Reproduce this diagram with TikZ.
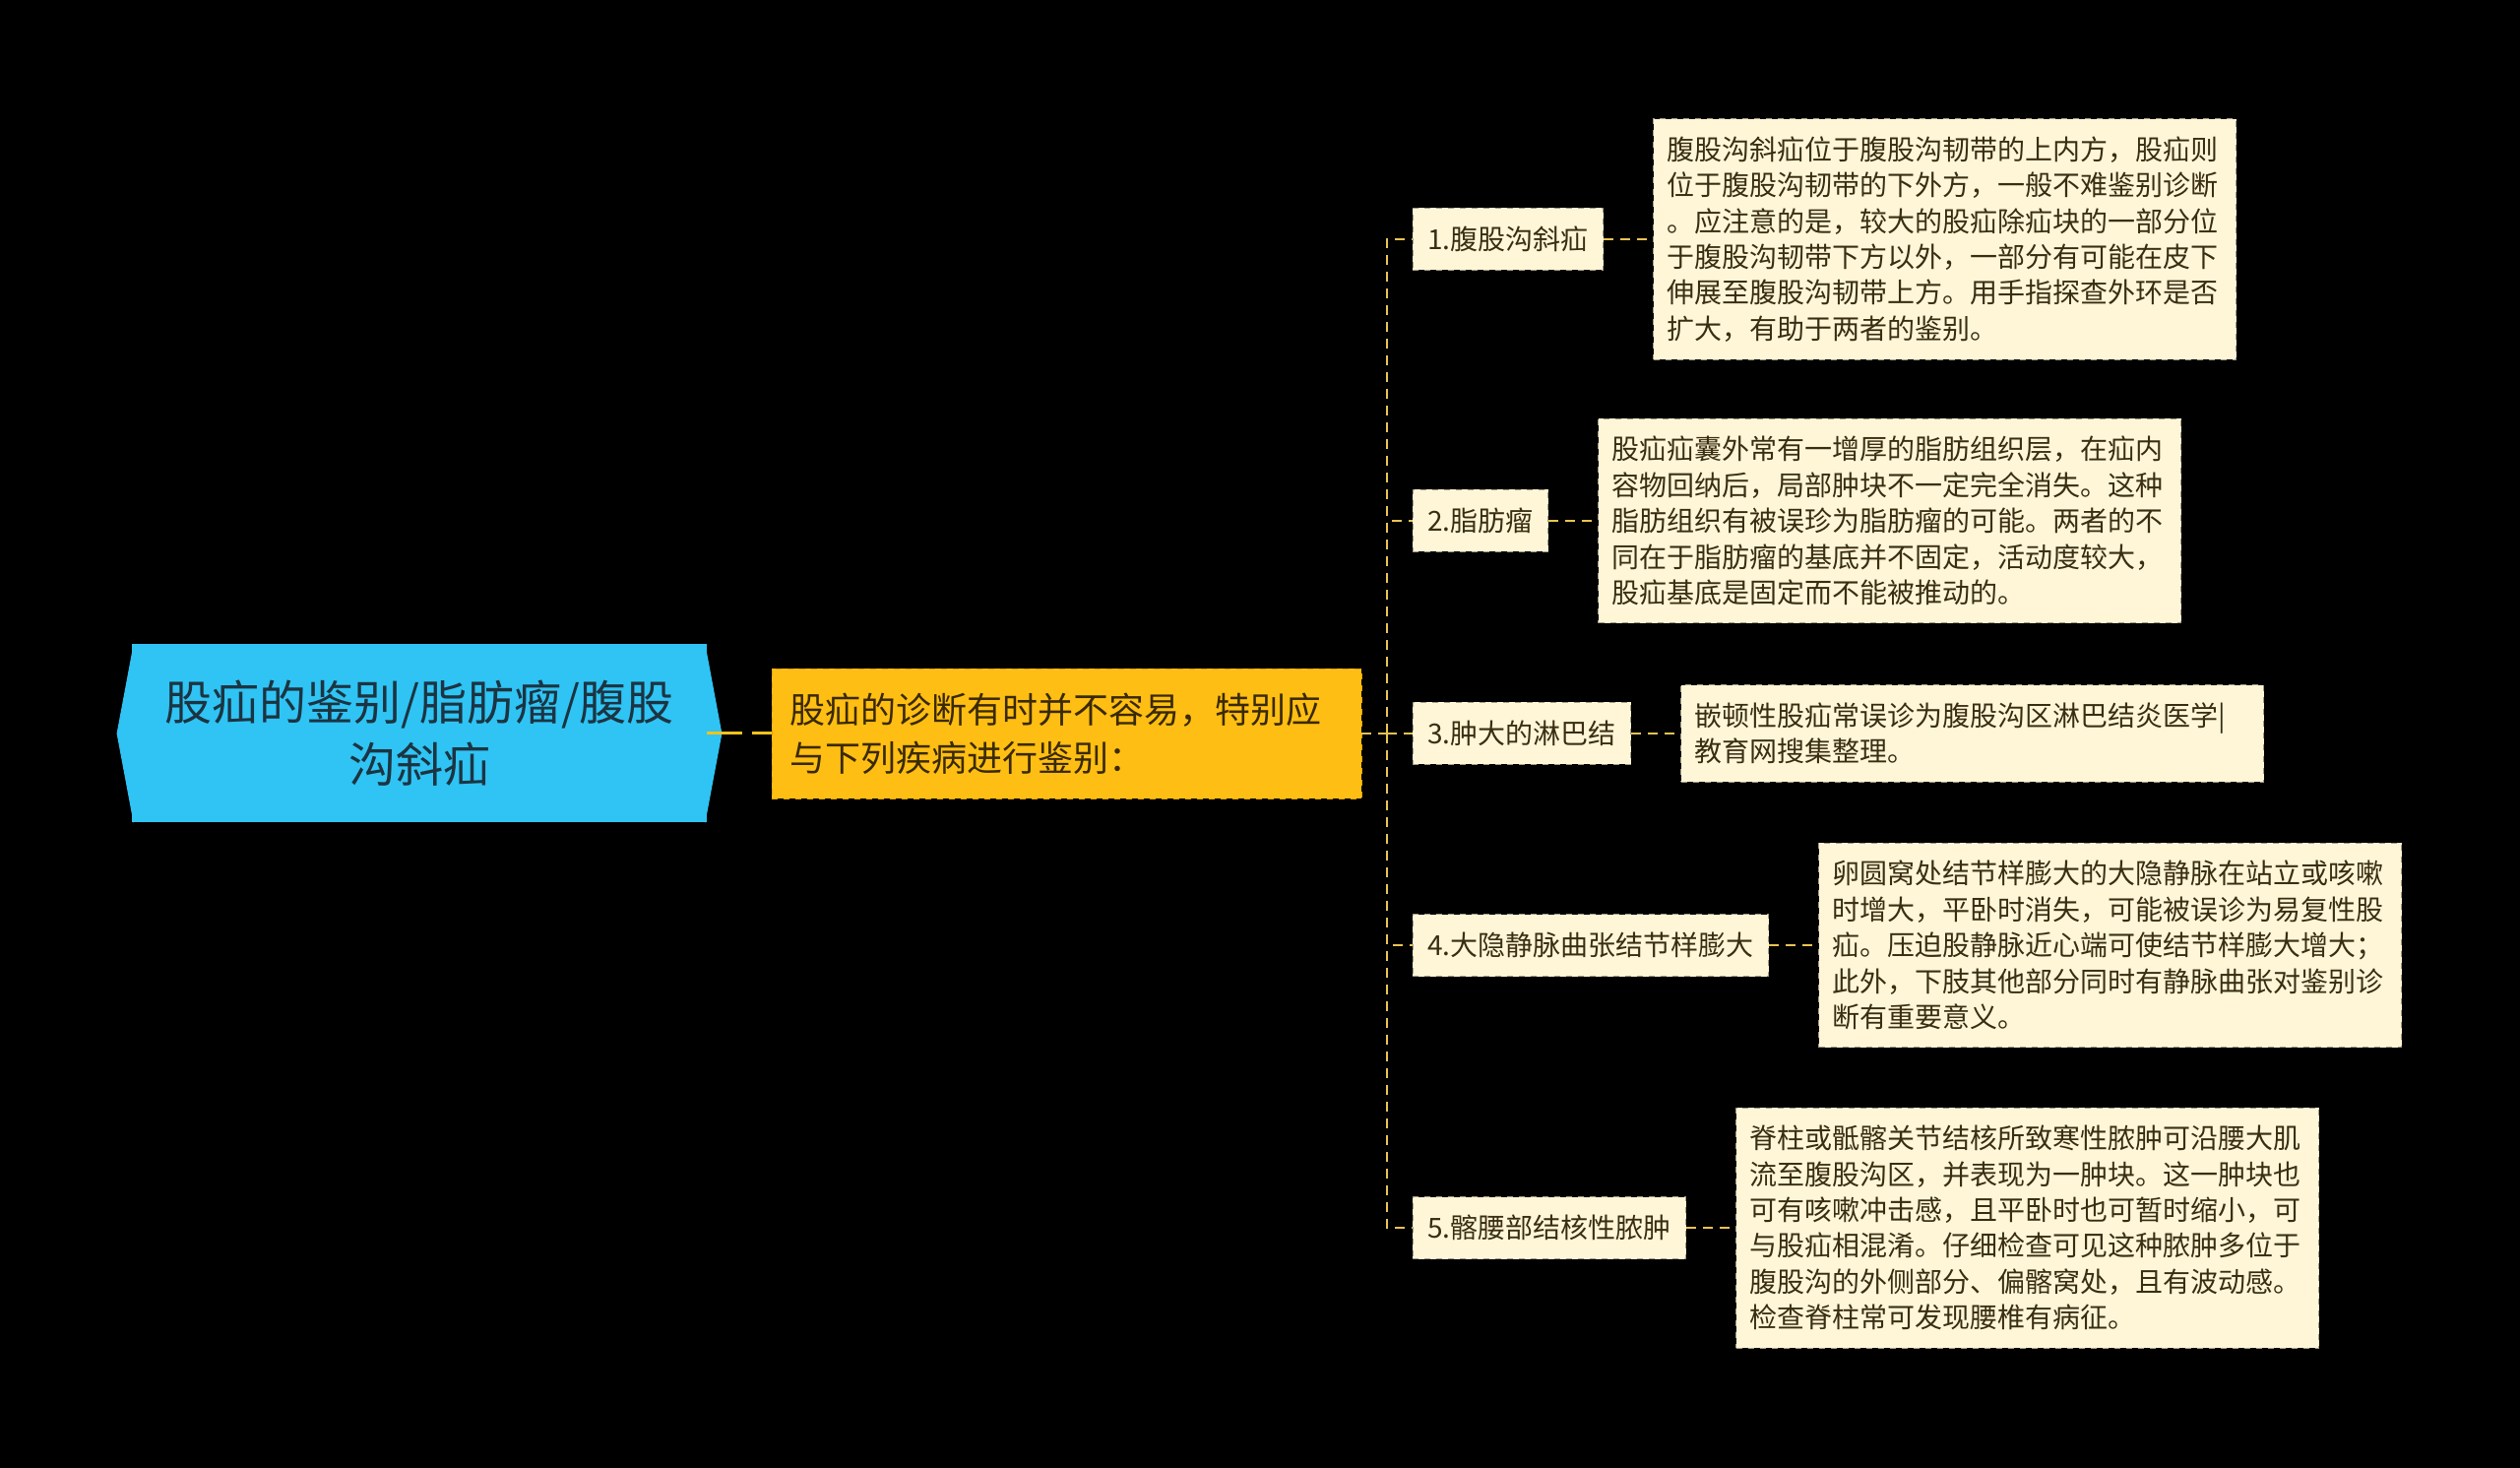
\documentclass[tikz,border=0pt]{standalone}
\usepackage[]{fontspec}
\setmainfont{Noto Sans CJK SC}
\usepackage[]{tikz}
\usetikzlibrary{positioning}
\definecolor{rootblue}{HTML}{2FC4F4}
\definecolor{rootink}{HTML}{1C3442}
\definecolor{midorange}{HTML}{FFBE14}
\definecolor{midedge}{HTML}{E5A300}
\definecolor{midink}{HTML}{3A2A00}
\definecolor{cream}{HTML}{FFF6D8}
\definecolor{creamedge}{HTML}{A39C86}
\definecolor{noteink}{HTML}{3A2E12}
\definecolor{linkgold}{HTML}{F2C21C}
\definecolor{branchgold}{HTML}{E8C352}
\tikzset{hexbox/.style = {fill=rootblue, text=rootink, minimum width=292pt, minimum height=90.5pt, inner sep=0, align=center, font=\fontsize{24}{31.5}\selectfont}}
\tikzset{midbox/.style = {fill=midorange, draw=midedge, dashed, text=midink, text width=281.5pt, inner xsep=9pt, minimum height=66pt, align=left, font=\fontsize{18}{24.5}\selectfont}}
\tikzset{itembox/.style = {fill=cream, draw=creamedge, dashed, text=noteink, anchor=west, minimum height=31.5pt, inner xsep=7.5pt, font=\fontsize{14}{18}\selectfont}}
\tikzset{notebox/.style = {fill=cream, draw=creamedge, dashed, text=noteink, text width=282pt, inner xsep=7pt, inner ysep=9pt, align=left, font=\fontsize{14}{18.2}\selectfont}}
\tikzset{mainlink/.style = {draw=linkgold, line width=1.5pt, dash pattern=on 18pt off 5pt}}
\tikzset{branch/.style = {draw=branchgold, line width=1pt, dash pattern=on 5pt off 3.5pt}}

\begin{document}
\begin{tikzpicture}[x=0.5pt, y=-0.5pt]
            \fill [black] (0,0) rectangle (2560,1491);
            \useasboundingbox (0,0) rectangle (2560,1491);
            % root hexagon
            \node [hexbox] (root) at (426,745) {股疝的鉴别/脂肪瘤/腹股\\沟斜疝};
            \fill [rootblue] ([xshift=1pt]root.north west) -- ([xshift=-7.5pt]root.west) -- ([xshift=1pt]root.south west) -- cycle;
            \fill [rootblue] ([xshift=-1pt]root.north east) -- ([xshift=7.5pt]root.east) -- ([xshift=-1pt]root.south east) -- cycle;
            \node [midbox] (mid) at (1083.5,745) {股疝的诊断有时并不容易，特别应\\与下列疾病进行鉴别：};
            \draw [mainlink] (root.east)--(mid.west);
            % items
            \node [itembox] (c1) at (1435,243) {1.腹股沟斜疝};
            \node [itembox] (c2) at (1435,529) {2.脂肪瘤};
            \node [itembox] (c3) at (1435,745) {3.肿大的淋巴结};
            \node [itembox] (c4) at (1435,960) {4.大隐静脉曲张结节样膨大};
            \node [itembox] (c5) at (1435,1247) {5.髂腰部结核性脓肿};
            \node [notebox, right=25pt of c1] (d1) {腹股沟斜疝位于腹股沟韧带的上内方，股疝则\\位于腹股沟韧带的下外方，一般不难鉴别诊断\\。应注意的是，较大的股疝除疝块的一部分位\\于腹股沟韧带下方以外，一部分有可能在皮下\\伸展至腹股沟韧带上方。用手指探查外环是否\\扩大，有助于两者的鉴别。};
            \node [notebox, right=25pt of c2] (d2) {股疝疝囊外常有一增厚的脂肪组织层，在疝内\\容物回纳后，局部肿块不一定完全消失。这种\\脂肪组织有被误珍为脂肪瘤的可能。两者的不\\同在于脂肪瘤的基底并不固定，活动度较大，\\股疝基底是固定而不能被推动的。};
            \node [notebox, right=25pt of c3] (d3) {嵌顿性股疝常误诊为腹股沟区淋巴结炎医学|\\教育网搜集整理。};
            \node [notebox, right=25pt of c4] (d4) {卵圆窝处结节样膨大的大隐静脉在站立或咳嗽\\时增大，平卧时消失，可能被误诊为易复性股\\疝。压迫股静脉近心端可使结节样膨大增大；\\此外，下肢其他部分同时有静脉曲张对鉴别诊\\断有重要意义。};
            \node [notebox, right=25pt of c5] (d5) {脊柱或骶髂关节结核所致寒性脓肿可沿腰大肌\\流至腹股沟区，并表现为一肿块。这一肿块也\\可有咳嗽冲击感，且平卧时也可暂时缩小，可\\与股疝相混淆。仔细检查可见这种脓肿多位于\\腹股沟的外侧部分、偏髂窝处，且有波动感。\\检查脊柱常可发现腰椎有病征。};
            % branches
            \coordinate (fork) at (1409,745);
            \draw [branch] (mid.east)--(fork);
            \foreach \k in {1,...,5} {
                \draw [branch] (fork) |- (c\k.west);
                \draw [branch] (c\k.east)--(d\k.west);
            }
        \end{tikzpicture}
\end{document}
